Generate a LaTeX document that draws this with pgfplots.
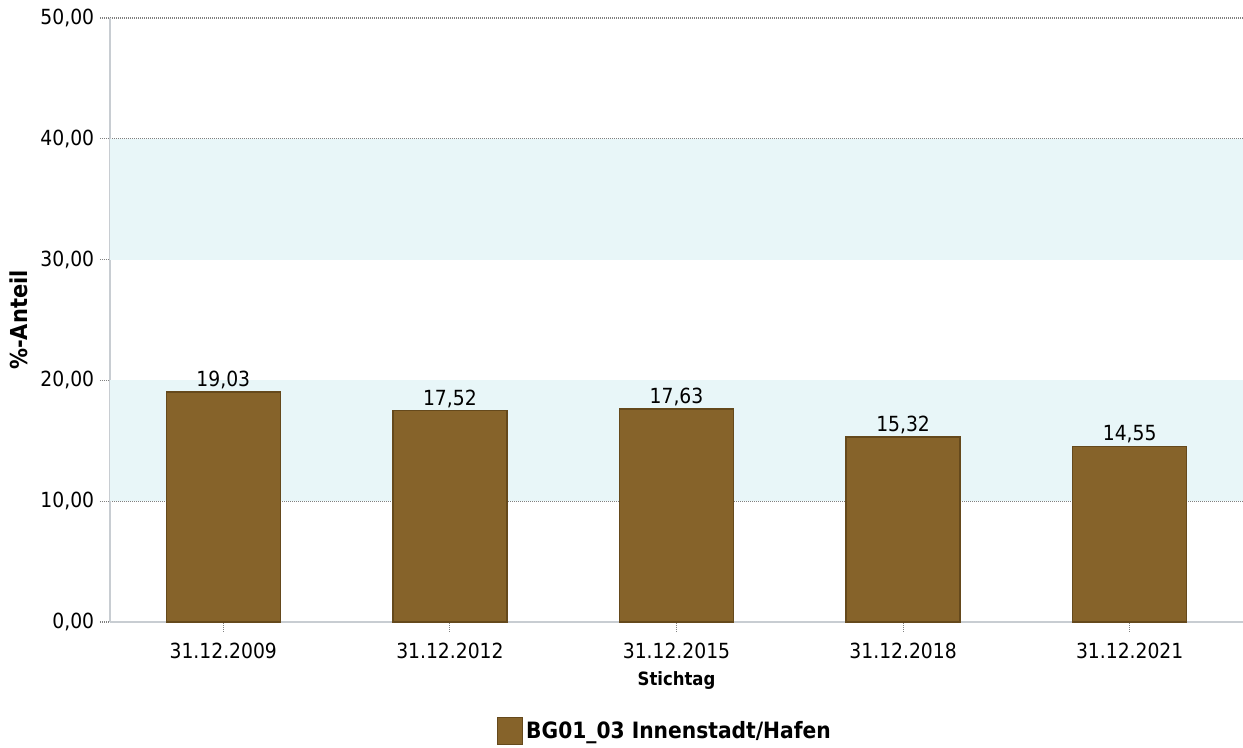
\documentclass[border=0pt]{standalone}
\usepackage{pgfplots}
\pgfplotsset{compat=1.18}
\usepackage{fontspec}
\setmainfont{DejaVu Sans Condensed}
\definecolor{barfill}{HTML}{86632A}
\definecolor{barline}{HTML}{65491C}
\definecolor{band}{HTML}{E8F6F8}
\definecolor{axline}{HTML}{C8CDD2}
\definecolor{gridc}{HTML}{808080}
\begin{document}
\begin{tikzpicture}
\useasboundingbox (-66pt,-75.6pt) rectangle (679.8pt,373.2pt);
\begin{axis}[
  at={(0pt,0pt)}, anchor=south west,
  scale only axis, width=679.8pt, height=362.4pt,
  xmin=-0.5, xmax=4.5, ymin=0, ymax=50,
  axis lines=left, axis line style={draw=axline, line width=1pt, -},
  xtick={0,1,2,3,4},
  xticklabels={31.12.2009,31.12.2012,31.12.2015,31.12.2018,31.12.2021},
  ytick={0,10,20,30,40,50},
  tick align=outside,
  major tick length=6pt,
  xtick style={draw=gridc, dash pattern=on 0.6pt off 0.6pt, line width=0.7pt},
  ytick style={draw=gridc, dash pattern=on 0.6pt off 0.6pt, line width=0.7pt},
  ymajorgrids, grid style={draw=gridc, dash pattern=on 0.6pt off 0.6pt, line width=0.7pt},
  y tick label style={/pgf/number format/.cd, fixed, fixed zerofill, precision=2, use comma, assume math mode=true},
  x tick label style={yshift=-3pt},
  tick label style={font=\fontsize{12.5}{14}\selectfont, text=black},
  ylabel={\textbf{\%-Anteil}},
  every axis y label/.style={at={(rel axis cs:0,0.5)}, rotate=90, anchor=center, yshift=55pt, font=\fontsize{14}{16}\selectfont},
  xlabel={\textbf{Stichtag}},
  every axis x label/.style={at={(rel axis cs:0.5,0)}, anchor=center, yshift=-35pt, font=\fontsize{11}{13}\selectfont},
  clip=false,
  nodes near coords,
  every node near coord/.append style={font=\fontsize{12.5}{14}\selectfont, text=black, anchor=south, yshift=-2pt, /pgf/number format/.cd, fixed, fixed zerofill, precision=2, use comma, assume math mode=true},
  legend style={at={(rel axis cs:0.5,0)}, anchor=center, xshift=-6.6pt, yshift=-65.4pt, draw=none, font=\bfseries\fontsize{13.5}{15}\selectfont, legend columns=1},
  legend image code/.code={\draw[fill=barfill, draw=barline, line width=0.6pt] (0pt,-8pt) rectangle (15pt,8.5pt);},
]
\fill[band] (axis cs:-0.5,10) rectangle (axis cs:4.5,20);
\fill[band] (axis cs:-0.5,30) rectangle (axis cs:4.5,40);
\addplot[ybar, bar width=68.4pt, fill=barfill, draw=barline, line width=0.8pt] coordinates {
 (0,19.03) (1,17.52) (2,17.63) (3,15.32) (4,14.55)
};
\addlegendentry{BG01\_03 Innenstadt/Hafen}
\end{axis}
\end{tikzpicture}
\end{document}
